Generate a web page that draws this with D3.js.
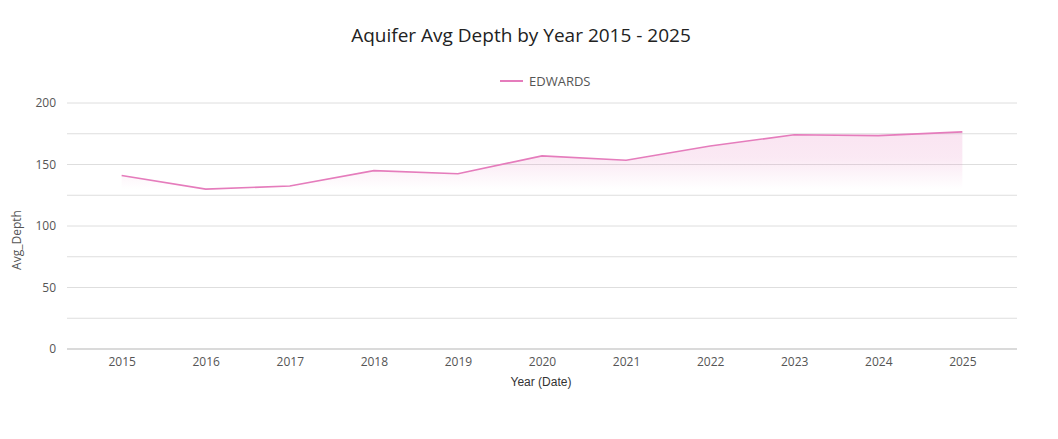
<!DOCTYPE html>
<html>
<head>
<meta charset="utf-8">
<script src="https://cdn.jsdelivr.net/npm/d3@7"></script>
<style>
  body { margin: 0; background: #fff; }
  text { font-family: "Open Sans", "Noto Sans", sans-serif; }
</style>
</head>
<body>
<svg id="chart"></svg>
<script>
// DATOS
const years = ["2015", "2016", "2017", "2018", "2019", "2020", "2021", "2022", "2023", "2024", "2025"];
const edwards = [141, 130, 132.5, 145, 142.5, 157, 153.5, 165, 174.2, 173.5, 176.5];
const yTicks = [0, 50, 100, 150, 200];
const seriesName = "EDWARDS";

const width = 1058, height = 439;
const plotL = 67, plotR = 1017, plotT = 103, plotB = 349;
const pink = "#e57cbc";

const svg = d3.select("#chart").attr("width", width).attr("height", height);

// ESCALAS
const x = d3.scalePoint().domain(years).range([plotL, plotR]).padding(0.65);
const y = d3.scaleLinear().domain([0, 200]).range([plotB, plotT]);

// GRID cada 25
svg.append("g")
  .selectAll("line")
  .data(d3.range(25, 201, 25))
  .join("line")
  .attr("x1", plotL).attr("x2", plotR)
  .attr("y1", d => y(d)).attr("y2", d => y(d))
  .attr("stroke", "#dedede").attr("stroke-width", 1);

// eje x
const xAxis = svg.append("g")
  .attr("transform", `translate(0,${plotB})`)
  .call(d3.axisBottom(x).tickSize(0).tickPadding(8));
xAxis.select(".domain").attr("stroke", "#b5b5b5").attr("d", `M${plotL},0H${plotR}`);
xAxis.selectAll("text").attr("font-size", 12).attr("fill", "#555");

// eje y
const yAxis = svg.append("g")
  .attr("transform", `translate(${plotL},0)`)
  .call(d3.axisLeft(y).tickValues(yTicks).tickSize(0).tickPadding(11));
yAxis.select(".domain").remove();
yAxis.selectAll("text").attr("font-size", 12).attr("fill", "#555");

// gradiente del area
const minV = d3.min(edwards), maxV = d3.max(edwards);
const grad = svg.append("defs").append("linearGradient")
  .attr("id", "fade")
  .attr("gradientUnits", "userSpaceOnUse")
  .attr("x1", 0).attr("x2", 0)
  .attr("y1", y(maxV)).attr("y2", y(minV));
grad.append("stop").attr("offset", 0).attr("stop-color", pink).attr("stop-opacity", 0.2);
grad.append("stop").attr("offset", 0.45).attr("stop-color", pink).attr("stop-opacity", 0.17);
grad.append("stop").attr("offset", 1).attr("stop-color", pink).attr("stop-opacity", 0);

const pts = years.map((d, i) => ({ year: d, value: edwards[i] }));

svg.append("path")
  .datum(pts)
  .attr("fill", "url(#fade)")
  .attr("d", d3.area().x(d => x(d.year)).y0(y(minV)).y1(d => y(d.value)));

svg.append("path")
  .datum(pts)
  .attr("fill", "none")
  .attr("stroke", pink)
  .attr("stroke-width", 1.6)
  .attr("d", d3.line().x(d => x(d.year)).y(d => y(d.value)));

// TITULO
svg.append("text")
  .attr("x", 521).attr("y", 42)
  .attr("text-anchor", "middle")
  .attr("font-size", 19)
  .attr("fill", "#222")
  .text("Aquifer Avg Depth by Year 2015 - 2025");

// LEYENDA
svg.append("line")
  .attr("x1", 500).attr("x2", 523).attr("y1", 81).attr("y2", 81)
  .attr("stroke", pink).attr("stroke-width", 2);
svg.append("text")
  .attr("x", 529).attr("y", 85.5)
  .attr("font-size", 13).attr("fill", "#555")
  .text(seriesName);

// titulos de ejes
svg.append("text")
  .attr("transform", `translate(21,${(plotT + plotB) / 2 + 14}) rotate(-90)`)
  .attr("text-anchor", "middle")
  .attr("font-size", 12).attr("fill", "#555")
  .text("Avg_Depth");

svg.append("text")
  .attr("x", (plotL + plotR) / 2 - 1).attr("y", 386)
  .attr("text-anchor", "middle")
  .style("font-family", "'Liberation Sans', Arial, sans-serif")
  .attr("font-size", 12).attr("fill", "#333")
  .text("Year (Date)");
</script>
</body>
</html>
